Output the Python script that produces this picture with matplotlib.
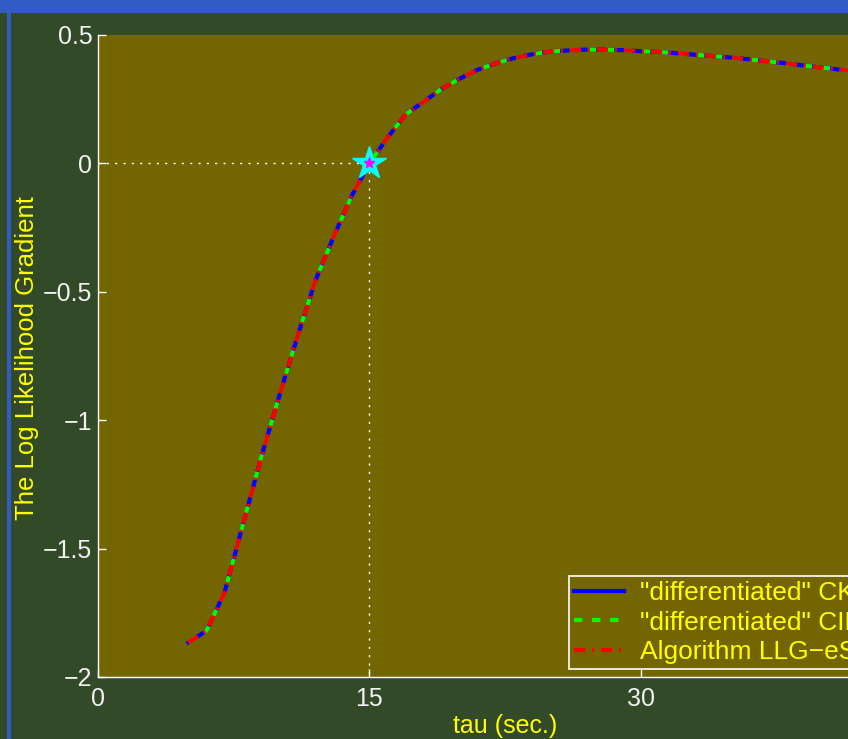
import numpy as np
import matplotlib.pyplot as plt
from matplotlib.patches import Rectangle

plt.rcParams['font.family'] = ['Liberation Sans', 'DejaVu Sans']
plt.rcParams['lines.scale_dashes'] = False

# gradient of the log likelihood vs. tau
tau = [5, 6, 7, 8, 9, 10, 11, 12, 13, 14, 15, 16, 17, 18, 19, 20, 21, 22,
       23, 24, 25, 26, 27, 28, 29, 30, 31, 32, 33, 34, 35, 36, 37, 38, 39,
       40, 41, 42]
grad = [-1.865, -1.82, -1.67, -1.41, -1.15, -0.91, -0.68, -0.46, -0.29,
        -0.13, 0.0, 0.10, 0.19, 0.24, 0.29, 0.33, 0.365, 0.39, 0.41, 0.425,
        0.435, 0.44, 0.443, 0.443, 0.441, 0.437, 0.434, 0.429, 0.423, 0.418,
        0.412, 0.405, 0.398, 0.39, 0.381, 0.373, 0.365, 0.358]
tau_hat = 15
grad_hat = 0.0

labels = ['"differentiated" CKF', '"differentiated" CIF', 'Algorithm LLG\u2212eSR']
xticks = [0, 15, 30, 45]
yticks = [-2, -1.5, -1, -0.5, 0, 0.5]
yticklabels = ['\u22122', '\u22121.5', '\u22121', '\u22120.5', '0', '0.5']

BG = '#324a28'
AX_BG = '#736600'
FRAME = '#335bc4'
TXT = '#f2f2f2'
YEL = '#ffff00'

fig = plt.figure(figsize=(8.48, 7.39), dpi=100, facecolor=BG)
# blue frame strips (top and left)
fig.patches.append(Rectangle((0, 1 - 13 / 739), 1, 13 / 739, transform=fig.transFigure,
                             facecolor=FRAME, edgecolor='none'))
fig.patches.append(Rectangle((7 / 848, 0), 4 / 848, 1 - 13 / 739, transform=fig.transFigure,
                             facecolor=FRAME, edgecolor='none'))

ax = fig.add_axes([98 / 848, 62 / 739, 814 / 848, 642 / 739], facecolor=AX_BG)

ax.plot(tau, grad, color='#0000ff', lw=3, ls='-', label=labels[0], zorder=3)
ax.plot(tau, grad, color='#00ff00', lw=3, dashes=(6, 7), label=labels[1], zorder=4)
ax.plot(tau, grad, color='#ff0000', lw=3, dashes=(8, 5, 1.5, 5), label=labels[2], zorder=5)

# crossing guides
ax.plot([0, tau_hat], [grad_hat, grad_hat], color='white', lw=1.0, dashes=(1.5, 4.5), zorder=2)
ax.plot([tau_hat, tau_hat], [grad_hat, -2], color='white', lw=1.0, dashes=(1.5, 4.5), zorder=2)
ax.plot(tau_hat, grad_hat, marker='*', ms=25, mfc='#00ffff', mec='#00ffff', zorder=6)
ax.plot(tau_hat, grad_hat, marker='*', ms=8, mfc='#ff00ff', mec='#ff00ff', zorder=7)

ax.set_xlim(0, 45)
ax.set_ylim(-2, 0.5)
ax.set_xticks(xticks)
ax.set_yticks(yticks)
ax.set_yticklabels(yticklabels)
ax.tick_params(direction='in', length=6, width=1, colors='white',
               labelcolor=TXT, labelsize=18)
ax.tick_params(axis='x', pad=7)
ax.tick_params(axis='y', pad=4)
for s in ('top', 'right'):
    ax.spines[s].set_visible(False)
for s in ('left', 'bottom'):
    ax.spines[s].set_color('white')
    ax.spines[s].set_linewidth(1)

ax.set_xlabel('tau (sec.)', color=YEL, fontsize=18, labelpad=2)
fig.text(27 / 848, 1 - 358 / 739, 'The Log Likelihood Gradient', color=YEL,
         fontsize=18.5, rotation=90, ha='center', va='center')

leg = ax.legend(loc='upper left', bbox_to_anchor=((569 - 98) / 814, (677 - 576) / 642),
                borderaxespad=0, fontsize=19, frameon=True, fancybox=False,
                facecolor=AX_BG, edgecolor='white', framealpha=1,
                handlelength=1.9, handletextpad=0.6, borderpad=0.2,
                labelspacing=0.2)
leg.get_frame().set_linewidth(1.2)
for t in leg.get_texts():
    t.set_color(YEL)

fig.savefig('out.png', dpi=100, facecolor=BG)
